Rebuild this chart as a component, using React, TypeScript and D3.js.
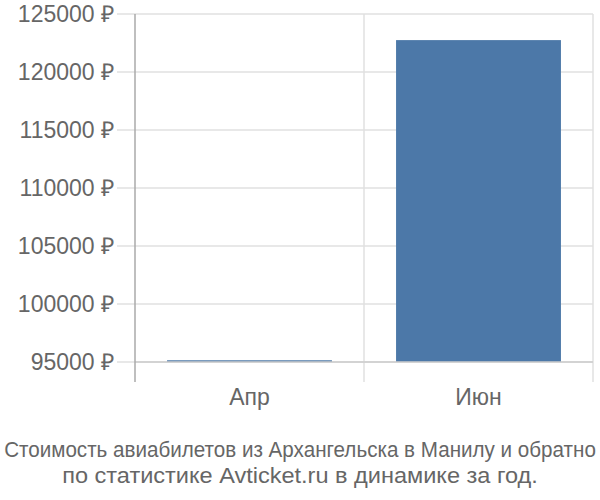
import * as d3 from "d3";
import { useEffect, useRef } from "react";

const months = ["Апр", "Июн"];
const prices = [95150, 122750];
const yTicks = [95000, 100000, 105000, 110000, 115000, 120000, 125000];
const titleLines = [
    "Стоимость авиабилетов из Архангельска в Манилу и обратно",
    "по статистике Avticket.ru в динамике за год.",
];
const titleWidths = [592, 476];

function App() {
    const ref = useRef<SVGSVGElement>(null);

    useEffect(() => {
        const width = 600;
        const height = 500;
        const margin = { top: 14, right: 7, bottom: 138, left: 135 };
        const font = "'Liberation Sans', Arial, sans-serif";

        const svg = d3.select(ref.current);
        svg.selectAll("*").remove();

        const x = d3.scaleBand()
            .domain(months)
            .range([margin.left, width - margin.right])
            .paddingInner(0.28)
            .paddingOuter(0.14);

        const y = d3.scaleLinear()
            .domain([95000, 125000])
            .range([height - margin.bottom, margin.top]);

        const bottom = height - margin.bottom;
        const band = (width - margin.left - margin.right) / months.length;

        // horizontal grid + tick stubs
        svg.append("g")
            .selectAll("line")
            .data(yTicks)
            .join("line")
            .attr("x1", margin.left - 18)
            .attr("x2", width - margin.right)
            .attr("y1", (d) => y(d))
            .attr("y2", (d) => y(d))
            .attr("stroke", "#e0e0e0")
            .attr("stroke-width", 1.5);

        // vertical category separators
        svg.append("g")
            .selectAll("line")
            .data(months)
            .join("line")
            .attr("x1", (_, i) => margin.left + (i + 1) * band)
            .attr("x2", (_, i) => margin.left + (i + 1) * band)
            .attr("y1", margin.top)
            .attr("y2", bottom + 20)
            .attr("stroke", "#e0e0e0")
            .attr("stroke-width", 1.5);

        // y labels
        svg.append("g")
            .selectAll("text")
            .data(yTicks)
            .join("text")
            .attr("x", margin.left - 21)
            .attr("y", (d) => y(d))
            .attr("dy", "0.36em")
            .attr("text-anchor", "end")
            .attr("fill", "#666")
            .style("font-family", font)
            .style("font-size", "23px")
            .text((d) => `${d} ₽`);

        // bars
        svg.append("g")
            .selectAll("rect")
            .data(prices)
            .join("rect")
            .attr("x", (_, i) => x(months[i])!)
            .attr("width", x.bandwidth())
            .attr("y", (d) => y(d))
            .attr("height", (d) => Math.max(1.5, bottom - y(d)))
            .attr("fill", "#4c78a8");

        // baseline
        svg.append("line")
            .attr("x1", margin.left)
            .attr("x2", width - margin.right)
            .attr("y1", bottom)
            .attr("y2", bottom)
            .attr("stroke", "#cccccc")
            .attr("stroke-width", 1.5);

        // y axis line
        svg.append("line")
            .attr("x1", margin.left)
            .attr("x2", margin.left)
            .attr("y1", margin.top)
            .attr("y2", bottom + 20)
            .attr("stroke", "#aaaaaa")
            .attr("stroke-width", 1.5);

        // x labels
        svg.append("g")
            .selectAll("text")
            .data(months)
            .join("text")
            .attr("x", (_, i) => margin.left + (i + 0.5) * band)
            .attr("y", bottom + 43)
            .attr("text-anchor", "middle")
            .attr("fill", "#666")
            .style("font-family", font)
            .style("font-size", "23px")
            .text((d) => d);

        // title: each line squeezed horizontally to fit its width
        titleLines.forEach((line, i) => {
            const g = svg.append("g");
            const t = g.append("text")
                .attr("x", 0)
                .attr("y", 0)
                .attr("text-anchor", "middle")
                .attr("fill", "#666")
                .style("font-family", font)
                .style("font-size", "22px")
                .text(line);
            const natural = (t.node() as SVGTextElement).getComputedTextLength() || titleWidths[i];
            g.attr("transform", `translate(300,${457 + i * 26}) scale(${titleWidths[i] / natural},1)`);
        });
    }, []);

    return (
        <div style={{ position: "absolute", left: 0, top: 0 }}>
            <svg ref={ref} width={600} height={500} style={{ display: "block" }} />
        </div>
    );
}

export default App;
